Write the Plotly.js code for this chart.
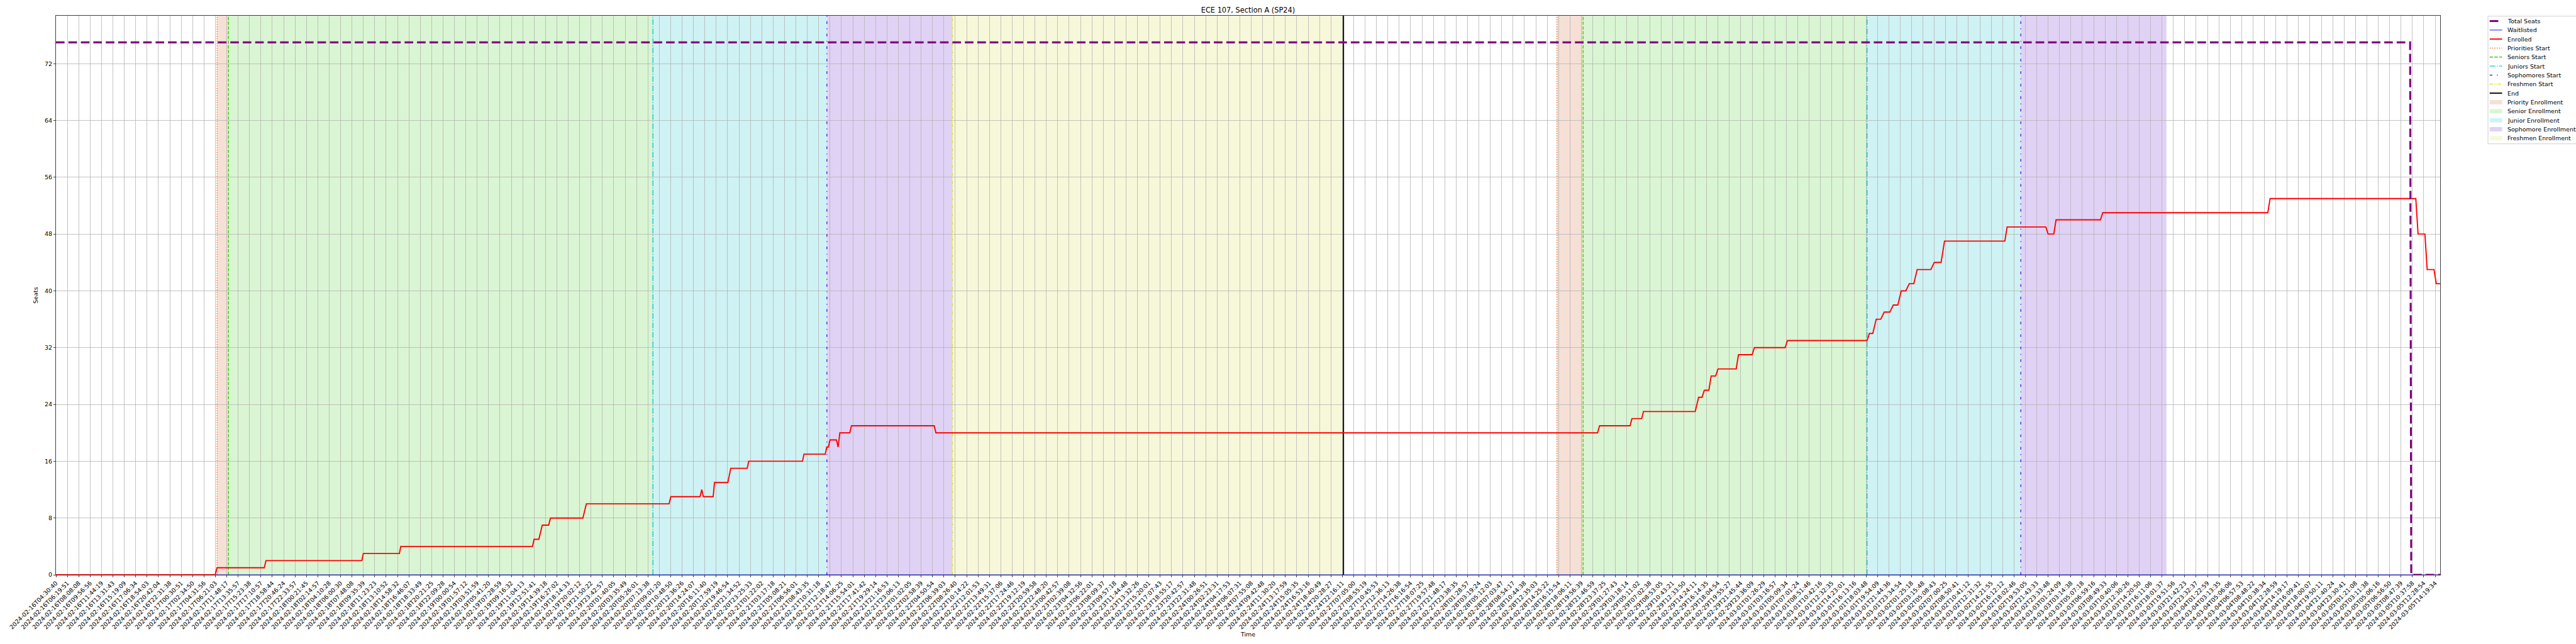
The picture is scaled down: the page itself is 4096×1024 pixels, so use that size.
<!DOCTYPE html>
<html><head><meta charset="utf-8">
<script src="https://cdn.plot.ly/plotly-3.0.1.min.js"></script>
<style>html,body{margin:0;padding:0;background:#fff;}#chart{width:4096px;height:1024px;}</style>
</head><body><div id="chart"></div>
<script>
// ---- tick labels (one per sample-index tick, x = 0..209) ----
const tickLabels = [
"2024-02-16T04:30:40","2024-02-16T06:19:51","2024-02-16T08:08:08","2024-02-16T09:56:56","2024-02-16T11:44:19",
"2024-02-16T13:31:43","2024-02-16T15:19:09","2024-02-16T17:06:34","2024-02-16T18:54:03","2024-02-16T20:42:04",
"2024-02-16T22:31:38","2024-02-17T00:30:51","2024-02-17T02:34:50","2024-02-17T04:31:56","2024-02-17T06:21:03",
"2024-02-17T11:48:17","2024-02-17T13:35:57","2024-02-17T15:23:38","2024-02-17T17:10:57","2024-02-17T18:58:44",
"2024-02-17T20:46:24","2024-02-17T22:33:57","2024-02-18T00:21:45","2024-02-18T02:14:57","2024-02-18T04:10:28",
"2024-02-18T06:00:30","2024-02-18T07:48:08","2024-02-18T09:35:39","2024-02-18T11:23:23","2024-02-18T13:10:52",
"2024-02-18T14:58:32","2024-02-18T16:46:07","2024-02-18T18:33:49","2024-02-18T20:21:25","2024-02-18T22:09:28",
"2024-02-19T00:00:54","2024-02-19T01:57:12","2024-02-19T03:51:59","2024-02-19T05:41:20","2024-02-19T07:28:59",
"2024-02-19T09:16:32","2024-02-19T11:04:13","2024-02-19T12:51:41","2024-02-19T14:39:18","2024-02-19T16:27:02",
"2024-02-19T18:14:33","2024-02-19T20:02:12","2024-02-19T21:50:22","2024-02-19T23:42:57","2024-02-20T01:40:05",
"2024-02-20T03:35:49","2024-02-20T05:26:01","2024-02-20T07:13:38","2024-02-20T09:01:20","2024-02-20T10:48:50",
"2024-02-20T12:36:26","2024-02-20T14:24:07","2024-02-20T16:11:40","2024-02-20T17:59:19","2024-02-20T19:46:54",
"2024-02-20T21:34:52","2024-02-20T23:25:33","2024-02-21T01:22:02","2024-02-21T03:17:18","2024-02-21T05:08:21",
"2024-02-21T06:56:01","2024-02-21T08:43:35","2024-02-21T10:31:18","2024-02-21T12:18:47","2024-02-21T14:06:25",
"2024-02-21T15:54:01","2024-02-21T17:41:42","2024-02-21T19:29:14","2024-02-21T21:16:53","2024-02-21T23:06:13",
"2024-02-22T01:02:05","2024-02-22T02:58:39","2024-02-22T04:50:54","2024-02-22T06:39:03","2024-02-22T08:26:40",
"2024-02-22T10:14:22","2024-02-22T12:01:53","2024-02-22T13:49:31","2024-02-22T15:37:06","2024-02-22T17:24:46",
"2024-02-22T19:12:19","2024-02-22T20:59:58","2024-02-22T22:48:20","2024-02-23T00:42:57","2024-02-23T02:39:08",
"2024-02-23T04:32:56","2024-02-23T06:22:01","2024-02-23T08:09:37","2024-02-23T09:57:18","2024-02-23T11:44:48",
"2024-02-23T13:32:26","2024-02-23T15:20:01","2024-02-23T17:07:43","2024-02-23T18:55:17","2024-02-23T20:42:57",
"2024-02-23T22:31:48","2024-02-24T00:26:51","2024-02-24T02:23:31","2024-02-24T04:17:53","2024-02-24T06:07:31",
"2024-02-24T07:55:08","2024-02-24T09:42:48","2024-02-24T11:30:20","2024-02-24T13:17:59","2024-02-24T15:05:35",
"2024-02-24T16:53:16","2024-02-24T18:40:49","2024-02-24T20:28:27","2024-02-24T22:16:11","2024-02-27T07:05:00",
"2024-02-27T08:55:19","2024-02-27T10:45:53","2024-02-27T12:36:13","2024-02-27T14:26:38","2024-02-27T16:16:54",
"2024-02-27T18:07:25","2024-02-27T19:57:48","2024-02-27T21:48:17","2024-02-27T23:38:35","2024-02-28T01:28:57",
"2024-02-28T03:19:24","2024-02-28T05:12:03","2024-02-28T07:03:47","2024-02-28T08:54:17","2024-02-28T10:44:38",
"2024-02-28T12:35:03","2024-02-28T14:25:22","2024-02-28T16:15:54","2024-02-28T18:06:11","2024-02-28T19:56:39",
"2024-02-28T21:46:59","2024-02-28T23:37:25","2024-02-29T01:27:43","2024-02-29T03:18:14","2024-02-29T05:11:02",
"2024-02-29T07:02:38","2024-02-29T08:53:05","2024-02-29T10:43:21","2024-02-29T12:33:50","2024-02-29T14:24:11",
"2024-02-29T16:14:35","2024-02-29T18:04:54","2024-02-29T19:55:27","2024-02-29T21:45:44","2024-02-29T23:36:09",
"2024-03-01T01:26:29","2024-03-01T03:16:57","2024-03-01T05:09:34","2024-03-01T07:01:24","2024-03-01T08:51:46",
"2024-03-01T10:42:16","2024-03-01T12:32:35","2024-03-01T14:23:01","2024-03-01T16:13:16","2024-03-01T18:03:48",
"2024-03-01T19:54:09","2024-03-01T21:44:36","2024-03-01T23:34:54","2024-03-02T01:25:18","2024-03-02T03:15:48",
"2024-03-02T05:08:43","2024-03-02T07:00:25","2024-03-02T08:50:41","2024-03-02T10:41:12","2024-03-02T12:31:32",
"2024-03-02T14:21:55","2024-03-02T16:12:12","2024-03-02T18:02:46","2024-03-02T19:53:05","2024-03-02T21:43:33",
"2024-03-02T23:33:48","2024-03-03T01:24:09","2024-03-03T03:14:38","2024-03-03T05:07:18","2024-03-03T06:59:16",
"2024-03-03T08:49:33","2024-03-03T10:40:06","2024-03-03T12:30:26","2024-03-03T14:20:50","2024-03-03T16:11:06",
"2024-03-03T18:01:37","2024-03-03T19:51:56","2024-03-03T21:42:23","2024-03-03T23:32:37","2024-03-04T01:22:59",
"2024-03-04T03:13:35","2024-03-04T05:06:06","2024-03-04T06:57:53","2024-03-04T08:48:22","2024-03-04T10:38:34",
"2024-03-04T12:28:59","2024-03-04T14:19:17","2024-03-04T16:09:41","2024-03-04T18:00:07","2024-03-04T19:50:11",
"2024-03-04T21:40:24","2024-03-04T23:30:41","2024-03-05T01:21:08","2024-03-05T03:11:38","2024-03-05T05:06:16",
"2024-03-05T06:56:50","2024-03-05T08:47:39","2024-03-05T10:37:58","2024-03-05T12:28:54","2024-03-05T14:19:34"
];
const xEnd = 209.44;

// ---- series (x in sample-tick units) ----
const totalSeatsX = [0, 206.8, 206.9, 209.44];
const totalSeatsY = [75, 75, 0, 0];
const waitlistedX = [0, 209.44];
const waitlistedY = [0, 0];
const enrolledX = [0,13.98,14.15,18.3,18.45,26.87,27.0,30.17,30.29,41.86,42.0,42.42,42.72,43.28,43.44,46.29,46.59,
 53.86,54.01,56.58,56.73,56.87,57.73,57.85,59.02,59.28,60.73,60.85,65.58,65.71,67.58,67.71,67.85,68.0,68.56,68.71,68.86,
 69.73,69.88,77.15,77.3,135.42,135.6,138.28,138.44,139.3,139.45,
 144.0,144.3,144.6,144.8,145.2,145.4,145.8,146.0,147.6,147.8,149.0,149.2,151.9,152.1,
 159.1,159.3,159.6,159.9,160.3,160.6,161.1,161.4,161.8,162.1,162.5,162.8,163.2,163.5,164.7,165.0,165.6,165.9,
 171.2,171.4,174.8,175.0,175.5,175.7,179.6,179.8,194.3,194.5,207.3,207.5,208.1,208.3,208.9,209.1,209.44];
const enrolledY = [0,0,1,1,2,2,3,3,4,4,5,5,7,7,8,8,10,
 10,11,11,12,11,11,13,13,15,15,16,16,17,17,18,18,19,19,18,20,
 20,21,21,20,20,21,21,22,22,23,
 23,25,25,26,26,28,28,29,29,31,31,32,32,33,
 33,34,34,36,36,37,37,38,38,40,40,41,41,43,43,44,44,47,
 47,49,49,48,48,50,50,51,51,53,53,48,48,43,43,41,41];

const prioritiesStart = [14.15, 131.85];
const seniorsStart = [15.15, 134.15];
const juniorsStart = [52.44, 159.1];
const sophomoresStart = [67.72, 172.6];
const freshmenStart = [78.75];
const endMarks = [113.1];
const priorityEnrollment = [[14.15, 15.15], [131.85, 134.15]];
const seniorEnrollment = [[15.15, 52.44], [134.15, 159.1]];
const juniorEnrollment = [[52.44, 67.72], [159.1, 172.6]];
const sophomoreEnrollment = [[67.72, 78.75], [172.6, 185.4]];
const freshmenEnrollment = [[78.75, 113.1]];

const YTOP = 78.75;
const S = 4096 / 6000;
const PT = 100 / 72 * S;          // one matplotlib point in window px
const FONT = 'DejaVu Sans, Liberation Sans, sans-serif';
const FS = 10 * PT;

const W = 4096, H = 1024, ML = 89, MR = 216, MT = 25, MB = 110;
const PW = W - ML - MR, PH = H - MT - MB;
const px = v => (v - ML) / PW;
const py = v => 1 - (v - MT) / PH;

const ticktext = tickLabels;
const tickvals = ticktext.map((_, i) => i);

function vlines(xs) {
  const x = [], y = [];
  xs.forEach(v => { x.push(v, v, null); y.push(0, YTOP, null); });
  return {x, y};
}

const traces = [];
const shapes = [];
const annotations = [];

const spanDefs = [
  ['Priority Enrollment', priorityEnrollment, '#f6e0d6'],
  ['Senior Enrollment', seniorEnrollment, '#daf5d3'],
  ['Junior Enrollment', juniorEnrollment, '#cff2f4'],
  ['Sophomore Enrollment', sophomoreEnrollment, '#e0d2f5'],
  ['Freshmen Enrollment', freshmenEnrollment, '#f7f8d9']
];
spanDefs.forEach(([name, arr, col]) => {
  arr.forEach(([a, b]) => shapes.push({type:'rect', xref:'x', yref:'y', x0:a, x1:b, y0:0, y1:YTOP,
    fillcolor: col, line:{width:0}, layer:'below'}));
});

const lw = 1.5 * PT;
const vdefs = [
  ['Priorities Start', prioritiesStart, '#ee6a2c', `${1*lw}px,${1.65*lw}px`, lw],
  ['Seniors Start', seniorsStart, '#3ccc14', `${3.7*lw}px,${1.6*lw}px`, lw],
  ['Juniors Start', juniorsStart, '#14c8cf', `${6.4*lw}px,${1.6*lw}px,${1*lw}px,${1.6*lw}px`, lw],
  ['Sophomores Start', sophomoresStart, '#6420dc', `${3*lw}px,${5*lw}px,${1*lw}px,${5*lw}px`, lw],
  ['Freshmen Start', freshmenStart, '#dede30', `${3.5*lw}px,${1.2*lw}px,${1*lw}px,${1.2*lw}px,${1*lw}px,${1.2*lw}px`, lw],
  ['End', endMarks, '#000000', 'solid', 2*PT]
];
vdefs.forEach(([name, xs, col, dash, w]) => {
  const v = vlines(xs);
  traces.push({type:'scatter', mode:'lines', name, x:v.x, y:v.y, line:{color:col, dash, width:w}, hoverinfo:'skip'});
});

const seatDash = `${20*S}px,${9*S}px`;
traces.push({type:'scatter', mode:'lines', name:'Waitlisted', x:waitlistedX, y:waitlistedY,
  line:{color:'#0000ff', width:1*PT}});
traces.push({type:'scatter', mode:'lines', name:'Enrolled', x:enrolledX, y:enrolledY,
  line:{color:'#ff0000', width:2*PT}});
traces.push({type:'scatter', mode:'lines', name:'Total Seats', x:totalSeatsX, y:totalSeatsY,
  line:{color:'#800080', width:3.3*PT, dash:seatDash}});

// ---- legend (drawn in paper coordinates) ----
const legLeft = 5795 * S, legTop = 37.7 * S, legBottom = 335 * S;
shapes.push({type:'rect', xref:'paper', yref:'paper', x0:px(legLeft), x1:px(W + 10), y0:py(legTop), y1:py(legBottom),
  fillcolor:'rgba(255,255,255,0.8)', line:{color:'#cccccc', width:1*PT}, layer:'above'});
const legendItems = [
  ['Total Seats', 'line', '#800080', seatDash, 3.3*PT],
  ['Waitlisted', 'line', '#0000ff', 'solid', 1*PT],
  ['Enrolled', 'line', '#ff0000', 'solid', 2*PT],
  ...vdefs.map(d => [d[0], 'line', d[2], d[3], d[4]]),
  ...spanDefs.map(d => [d[0], 'rect', d[2]])
];
const hx0 = 5799 * S, hx1 = 5828 * S, tx = 5838.3 * S;
legendItems.forEach((it, k) => {
  const yc = (49 + 21.0 * k) * S;
  if (it[1] === 'line') {
    shapes.push({type:'line', xref:'paper', yref:'paper', x0:px(hx0), x1:px(hx1), y0:py(yc), y1:py(yc),
      line:{color:it[2], dash:it[3], width:it[4]}, layer:'above'});
  } else {
    shapes.push({type:'rect', xref:'paper', yref:'paper', x0:px(hx0), x1:px(hx1), y0:py(yc - 5*S), y1:py(yc + 5*S),
      fillcolor:it[2], line:{width:0}, layer:'above'});
  }
  annotations.push({xref:'paper', yref:'paper', x:px(tx), y:py(yc), xanchor:'left', yanchor:'middle',
    text: it[0], showarrow:false, font:{family:FONT, size:FS, color:'#000'}, borderpad:0});
});

const layout = {
  width: W, height: H,
  margin: {l: ML, r: MR, t: MT, b: MB},
  paper_bgcolor: '#ffffff', plot_bgcolor: '#ffffff',
  font: {family: FONT, color: '#000000', size: FS},
  title: {text: 'ECE 107, Section A (SP24)', font: {family: FONT, size: 12*PT, color:'#000'},
    x: 0.5, xref: 'paper', xanchor: 'center', y: 1 - 15.7/1024, yref: 'container', yanchor: 'middle'},
  showlegend: false,
  xaxis: {range: [0, xEnd], tickmode: 'array', tickvals, ticktext, tickangle: -45,
    showgrid: true, gridcolor: '#b0b0b0', gridwidth: 0.8 * PT,
    showline: true, linecolor: '#000', linewidth: 0.8*PT, mirror: true,
    ticks: 'outside', ticklen: 3.5*PT, tickwidth: 0.8*PT, tickcolor: '#000',
    tickfont: {family: FONT, size: FS, color: '#000'}, zeroline: false,
    title: {text: 'Time', font: {family: FONT, size: FS, color: '#000'}, standoff: 2}},
  yaxis: {range: [0, YTOP], tickmode: 'array', tickvals: [0,8,16,24,32,40,48,56,64,72],
    showgrid: true, gridcolor: '#b0b0b0', gridwidth: 0.8 * PT,
    showline: true, linecolor: '#000', linewidth: 0.8*PT, mirror: true,
    ticks: 'outside', ticklen: 3.5*PT, tickwidth: 0.8*PT, tickcolor: '#000',
    tickfont: {family: FONT, size: FS, color: '#000'}, zeroline: false,
    title: {text: 'Seats', font: {family: FONT, size: FS, color: '#000'}, standoff: 8}},
  shapes, annotations
};
Plotly.newPlot('chart', traces, layout, {staticPlot: true, displayModeBar: false});
</script></body></html>
